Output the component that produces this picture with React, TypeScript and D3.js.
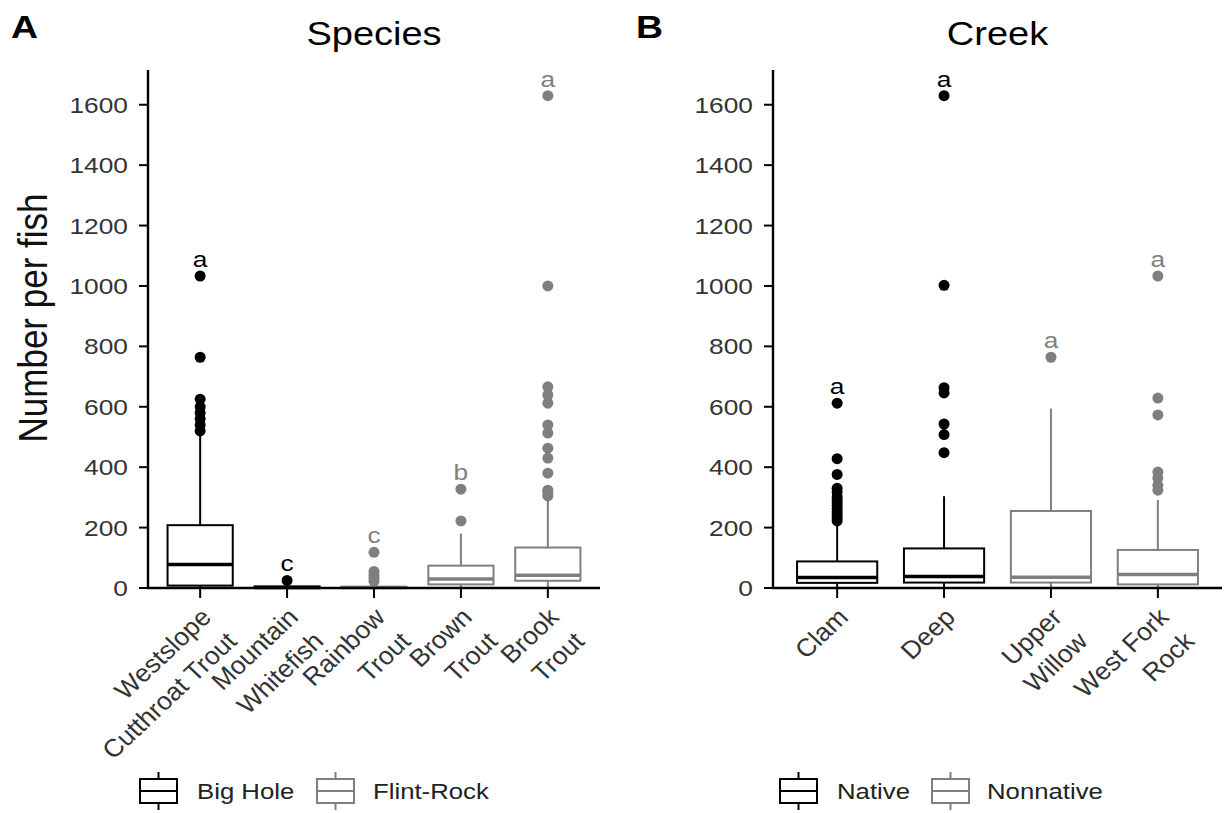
import React from "react";
import * as d3 from "d3";

const FONT = "'Liberation Sans', Arial, Helvetica, sans-serif";
const SX = 1.17;
const SX_LAB = 1.06;
const BLACK = "#000000";
const GRAY = "#7f7f7f";

const yTicks = [0, 200, 400, 600, 800, 1000, 1200, 1400, 1600];
const yMax = 1715;

// Panel A: Species
const speciesCats = ["Westslope\nCutthroat Trout", "Mountain\nWhitefish", "Rainbow\nTrout", "Brown\nTrout", "Brook\nTrout"];
const speciesGroup = ["Big Hole", "Big Hole", "Flint-Rock", "Flint-Rock", "Flint-Rock"];
const speciesQ1 = [8, 0, 0, 12, 24];
const speciesMedian = [78, 2, 2, 30, 42];
const speciesQ3 = [208, 5, 4, 74, 134];
const speciesLow = [0, 0, 0, 0, 0];
const speciesHigh = [505, 10, 9, 180, 298];
const speciesOutliers = [
  [520, 540, 560, 580, 600, 625, 764, 1033],
  [25],
  [22, 32, 42, 55, 118],
  [222, 327],
  [305, 315, 324, 380, 430, 463, 513, 540, 612, 639, 666, 1000, 1630],
];
const speciesLetters = ["a", "c", "c", "b", "a"];
const speciesLegend = ["Big Hole", "Flint-Rock"];

// Panel B: Creek
const creekCats = ["Clam", "Deep", "Upper\nWillow", "West Fork\nRock"];
const creekGroup = ["Native", "Native", "Nonnative", "Nonnative"];
const creekQ1 = [17, 18, 18, 12];
const creekMedian = [35, 38, 36, 45];
const creekQ3 = [88, 131, 255, 126];
const creekLow = [0, 0, 0, 0];
const creekHigh = [215, 304, 594, 291];
const creekOutliers = [
  [222, 232, 242, 252, 262, 272, 282, 292, 302, 318, 330, 376, 428, 612],
  [448, 508, 543, 646, 663, 1002, 1630],
  [764],
  [324, 340, 364, 384, 573, 629, 1033],
];
const creekLetters = ["a", "a", "a", "a"];
const creekLegend = ["Native", "Nonnative"];

const TOP = 70;
const BOTTOM = 588;

function STxt(props: any) {
  const { x, y, rot = 0, size = 22, anchor = "start", fill = BLACK, weight = "normal", children, sx = SX } = props;
  return (
    <text
      transform={`translate(${x},${y}) scale(${sx},1) rotate(${rot})`}
      textAnchor={anchor}
      fontFamily={FONT}
      fontSize={size}
      fontWeight={weight}
      fill={fill}
    >
      {children}
    </text>
  );
}

function LegendKey({ x, yc, color }: any) {
  const w = 37, h = 24;
  return (
    <g stroke={color} strokeWidth={2} fill="white">
      <line x1={x + w / 2} x2={x + w / 2} y1={yc - h / 2 - 7} y2={yc + h / 2 + 7} />
      <rect x={x} y={yc - h / 2} width={w} height={h} />
      <line x1={x} x2={x + w} y1={yc} y2={yc} />
    </g>
  );
}

function Panel(props: any) {
  const { id, clipLeft, left, right, title, cats, group, groups, q1, med, q3, low, high, outliers, letters, legend, legendX, legendTextX } = props;
  const x = d3.scalePoint<string>().domain(cats).range([left, right]).padding(0.6);
  const y = d3.scaleLinear().domain([0, yMax]).range([BOTTOM, TOP]);
  const step = x.step();
  const bw = step * 0.75;
  const col = (g: string) => (g === groups[0] ? BLACK : GRAY);
  const fontSize = 22.5;
  const labSize = 25;
  const lh = 34;
  return (
    <g>
      <defs>
        <clipPath id={id}>
          <rect x={clipLeft} y={0} width={700} height={813} />
        </clipPath>
      </defs>
      {/* title */}
      <STxt x={(left + right) / 2} y={45} size={32.5} anchor="middle">{title}</STxt>
      {/* boxes */}
      {cats.map((c: string, i: number) => {
        const cx = x(c)!;
        const color = col(group[i]);
        return (
          <g key={c}>
            <line x1={cx} x2={cx} y1={y(q3[i])} y2={y(high[i])} stroke={color} strokeWidth={2} />
            <line x1={cx} x2={cx} y1={y(q1[i])} y2={y(low[i])} stroke={color} strokeWidth={2} />
            <rect x={cx - bw / 2} y={y(q3[i])} width={bw} height={Math.max(0.5, y(q1[i]) - y(q3[i]))} fill="white" stroke={color} strokeWidth={2} />
            <line x1={cx - bw / 2} x2={cx + bw / 2} y1={y(med[i])} y2={y(med[i])} stroke={color} strokeWidth={3.5} />
            {outliers[i].map((v: number, j: number) => (
              <circle key={j} cx={cx} cy={y(v)} r={5.5} fill={color} />
            ))}
            <STxt x={cx} y={y(d3.max(outliers[i]) as number) - 9} size={fontSize} anchor="middle" fill={color}>
              {letters[i]}
            </STxt>
          </g>
        );
      })}
      {/* axes */}
      <line x1={left} x2={left} y1={TOP} y2={BOTTOM + 1} stroke={BLACK} strokeWidth={2.4} />
      <line x1={left - 1} x2={right} y1={BOTTOM} y2={BOTTOM} stroke={BLACK} strokeWidth={2.4} />
      {yTicks.map((t) => (
        <g key={t}>
          <line x1={left - 9} x2={left} y1={y(t)} y2={y(t)} stroke={BLACK} strokeWidth={2} />
          <STxt x={left - 20} y={y(t) + 8} size={fontSize} anchor="end" fill="#333333">{t}</STxt>
        </g>
      ))}
      <g clipPath={`url(#${id})`}>
        {cats.map((c: string) => {
          const cx = x(c)!;
          const lines = c.split("\n");
          return (
            <g key={"t" + c}>
              <line x1={cx} x2={cx} y1={BOTTOM} y2={BOTTOM + 10} stroke={BLACK} strokeWidth={2} />
              <text
                transform={`translate(${cx - 1},${BOTTOM + 18}) scale(${SX_LAB},1) rotate(-45)`}
                textAnchor="end"
                fontFamily={FONT}
                fontSize={labSize}
                fill="#333333"
              >
                {lines.map((l, k) => (
                  <tspan key={k} x={0} y={18 + k * lh}>{l}</tspan>
                ))}
              </text>
            </g>
          );
        })}
      </g>
      {/* legend */}
      {legend.map((l: string, i: number) => (
        <g key={l}>
          <LegendKey x={legendX[i]} yc={791} color={i === 0 ? BLACK : GRAY} />
          <STxt x={legendTextX[i]} y={799} size={22} fill="#222222">{l}</STxt>
        </g>
      ))}
    </g>
  );
}

export default function App() {
  return (
    <svg width={1225} height={813} style={{ position: "absolute", left: 0, top: 0, background: "white" }}>
      <rect x={0} y={0} width={1225} height={813} fill="white" />
      <STxt x={11} y={38} size={32} weight="bold">A</STxt>
      <STxt x={636} y={38} size={32} weight="bold">B</STxt>
      <text transform={`translate(47,318) scale(${SX},1) rotate(-90)`} textAnchor="middle" fontFamily={FONT} fontSize={35} fill="#111111">
        Number per fish
      </text>
      <Panel
        id="clipA" clipLeft={101}
        left={148} right={600} title="Species"
        cats={speciesCats} group={speciesGroup} groups={speciesLegend}
        q1={speciesQ1} med={speciesMedian} q3={speciesQ3} low={speciesLow} high={speciesHigh}
        outliers={speciesOutliers} letters={speciesLetters}
        legend={speciesLegend} legendX={[140, 317]} legendTextX={[197, 373]}
      />
      <Panel
        id="clipB" clipLeft={620}
        left={773} right={1222} title="Creek"
        cats={creekCats} group={creekGroup} groups={creekLegend}
        q1={creekQ1} med={creekMedian} q3={creekQ3} low={creekLow} high={creekHigh}
        outliers={creekOutliers} letters={creekLetters}
        legend={creekLegend} legendX={[780, 932]} legendTextX={[837, 987]}
      />
    </svg>
  );
}
